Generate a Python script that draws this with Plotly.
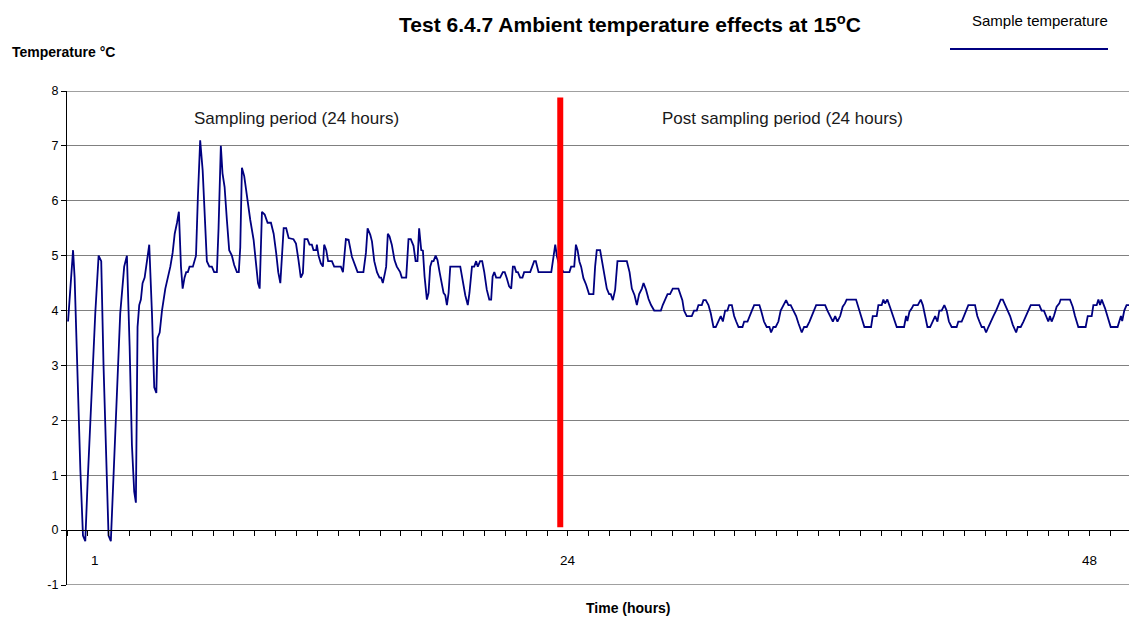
import plotly.graph_objects as go

# ---- data ----
# x is in axis-tick units (one minor tick per unit), y in degrees C
time_units = [
    0.05, 0.29, 0.365, 0.48, 0.64, 0.765, 0.876, 0.99, 1.2, 1.355, 1.515, 1.64, 1.75, 1.88, 1.99, 2.1,
    2.23, 2.39, 2.55, 2.74, 2.87, 3.0, 3.11, 3.22, 3.3, 3.38, 3.46, 3.54, 3.62, 3.72, 3.83, 3.94,
    4.07, 4.18, 4.28, 4.34, 4.44, 4.55, 4.71, 4.84, 4.95, 5.06, 5.16, 5.27, 5.36, 5.46, 5.54, 5.63,
    5.71, 5.79, 5.87, 6.03, 6.18, 6.27, 6.38, 6.5, 6.59, 6.7, 6.82, 6.94, 7.05, 7.18, 7.26, 7.37,
    7.45, 7.55, 7.66, 7.77, 7.9, 8.01, 8.14, 8.23, 8.3, 8.38, 8.49, 8.62, 8.78,
    8.94, 9.07, 9.15, 9.23, 9.34, 9.47, 9.61, 9.77, 9.9, 10.02, 10.12, 10.22, 10.38, 10.5, 10.62,
    10.85, 10.97, 11.09, 11.2, 11.3, 11.38, 11.52, 11.62, 11.73, 11.81, 11.94, 11.97, 12.05, 12.16,
    12.26, 12.32, 12.42, 12.51, 12.69, 12.8, 13.12, 13.22, 13.36, 13.49, 13.65, 13.76, 13.92, 14.2,
    14.32, 14.4, 14.53, 14.61, 14.72, 14.85, 14.97, 15.05, 15.13, 15.24, 15.29, 15.37, 15.45, 15.56,
    15.69, 15.8, 15.96,
    16.04, 16.25, 16.36, 16.47, 16.6, 16.7, 16.79, 16.87, 16.97, 17.05, 17.13, 17.24, 17.32, 17.4,
    17.48, 17.56, 17.66, 17.75, 17.85, 17.96, 18.04, 18.12, 18.2, 18.28, 18.36, 18.84, 18.96, 19.08,
    19.2, 19.28, 19.4, 19.51, 19.6, 19.68, 19.79, 19.89, 19.99, 20.11, 20.23, 20.32, 20.39, 20.47,
    20.56, 20.75, 20.88, 20.97, 21.07, 21.18, 21.28, 21.36, 21.44, 21.52, 21.6, 21.71, 21.82, 21.9,
    22.19, 22.3, 22.38, 22.46, 22.59, 23.2, 23.31, 23.39, 23.47, 23.6, 23.79, 24.07, 24.15, 24.3,
    24.38, 24.46, 24.55, 24.63, 24.74,
    24.87, 25.01, 25.22, 25.3, 25.38, 25.54, 25.64, 25.75, 25.86, 25.97, 26.05, 26.15, 26.26, 26.37,
    26.82, 26.95, 27.06, 27.19, 27.3, 27.41, 27.54, 27.62, 27.74, 27.86, 27.98, 28.13, 28.45, 28.54,
    28.65, 28.77, 28.89, 29.02, 29.29, 29.37, 29.48, 29.56, 29.69, 29.93, 30.04, 30.17, 30.25, 30.41,
    30.49, 30.6, 30.73, 30.84, 30.97, 31.08, 31.21, 31.32, 31.42, 31.53, 31.64, 31.72, 31.85, 31.96,
    32.06, 32.17, 32.36, 32.44, 32.6, 32.69, 32.81, 32.92, 33.17, 33.25, 33.39, 33.52, 33.65, 33.73,
    33.84, 33.95, 34.08, 34.19, 34.32, 34.45, 34.56, 34.67, 34.8, 34.93, 35.04, 35.2, 35.31, 35.44,
    35.57, 35.68, 35.79, 35.89, 36.24,
    36.32, 36.43, 36.56, 36.69, 36.8, 36.91, 37.04, 37.16, 37.27, 37.35, 37.8, 37.91, 38.02, 38.2,
    38.52, 38.6, 38.79, 38.87, 39.03, 39.11, 39.19, 39.3, 39.43, 39.56, 39.75, 40.1, 40.2, 40.26,
    40.36, 40.47, 40.55, 40.76, 40.9, 41.0, 41.11, 41.22, 41.35, 41.46, 41.59, 41.7, 41.79, 41.9,
    42.03, 42.14, 42.25, 42.38, 42.62, 42.7, 42.86, 42.97, 43.07, 43.18, 43.5, 43.61, 43.71, 43.82,
    43.93, 44.03, 44.14, 44.25, 44.38, 44.51, 44.62, 44.73, 44.83, 44.94, 45.05, 45.18, 45.31, 45.47,
    45.55, 45.69, 45.82, 45.95, 46.06, 46.17, 46.58, 46.69, 46.8, 46.9, 47.01, 47.09, 47.17, 47.28,
    47.41, 47.54, 47.6, 48.05, 48.18, 48.29, 48.45, 48.8, 48.9, 49.09, 49.17, 49.33, 49.41, 49.49,
    49.57, 49.73, 49.84, 50.0, 50.33, 50.41, 50.49, 50.55, 50.65, 50.76, 51.0, 51.08, 51.16, 51.24,
]

sample_temperature = [
    3.8, 5.1, 4.6, 3.0, 1.1, -0.1, -0.2, 0.9, 2.7, 3.95, 5.0, 4.9, 3.0, 1.2, -0.1, -0.2,
    1.0, 2.3, 3.95, 4.8, 5.0, 3.35, 1.55, 0.7, 0.5, 3.7, 4.1, 4.2, 4.5, 4.6, 4.9, 5.2,
    3.95, 2.6, 2.5, 3.5, 3.6, 4.0, 4.4, 4.6, 4.8, 5.05, 5.4, 5.6, 5.8, 4.8, 4.4, 4.6,
    4.7, 4.7, 4.8, 4.8, 5.0, 6.07, 7.1, 6.55, 5.9, 4.9, 4.8, 4.8, 4.7, 4.7, 5.5, 7.0,
    6.5, 6.25, 5.65, 5.1, 5.0, 4.83, 4.7, 4.7, 5.15, 6.6, 6.45, 6.07, 5.65,
    5.29, 4.8, 4.5, 4.4, 5.8, 5.75, 5.6, 5.6, 5.4, 5.05, 4.7, 4.5, 5.5, 5.5, 5.32,
    5.3, 5.22, 4.92, 4.6, 4.68, 5.3, 5.3, 5.2, 5.2, 5.1, 5.1, 5.2, 5.0, 4.86,
    4.8, 5.2, 5.1, 4.9, 4.9, 4.8, 4.8, 4.7, 5.3, 5.29, 4.98, 4.86, 4.7, 4.7,
    5.05, 5.5, 5.38, 5.26, 4.9, 4.7, 4.6, 4.6, 4.5, 4.7, 4.8, 5.4, 5.35, 5.2,
    4.92, 4.8, 4.7,
    4.6, 4.6, 5.3, 5.3, 5.18, 4.9, 4.9, 5.5, 5.1, 5.09, 4.62, 4.2, 4.32, 4.8,
    4.9, 4.9, 5.0, 4.92, 4.7, 4.5, 4.32, 4.28, 4.1, 4.32, 4.8, 4.8, 4.5, 4.28,
    4.1, 4.32, 4.8, 4.8, 4.9, 4.8, 4.9, 4.9, 4.7, 4.38, 4.2, 4.2, 4.62, 4.7,
    4.6, 4.6, 4.7, 4.7, 4.59, 4.44, 4.4, 4.8, 4.8, 4.7, 4.7, 4.6, 4.6, 4.7,
    4.7, 4.8, 4.9, 4.9, 4.7, 4.7, 5.0, 5.2, 4.99, 4.8, 4.7, 4.7, 4.8, 4.8,
    5.2, 5.1, 4.89, 4.8, 4.59,
    4.47, 4.3, 4.3, 4.8, 5.1, 5.1, 4.89, 4.6, 4.4, 4.3, 4.3, 4.19, 4.38, 4.9,
    4.9, 4.7, 4.4, 4.28, 4.1, 4.3, 4.4, 4.5, 4.38, 4.21, 4.1, 4.0, 4.0, 4.1,
    4.19, 4.3, 4.3, 4.4, 4.4, 4.3, 4.19, 4.0, 3.9, 3.9, 4.0, 4.0, 4.1, 4.1,
    4.19, 4.19, 4.1, 3.95, 3.7, 3.7, 3.8, 3.9, 3.8, 4.0, 4.0, 4.1, 4.1, 3.9,
    3.8, 3.7, 3.7, 3.8, 3.8, 3.9, 4.0, 4.1, 4.1, 4.0, 3.8, 3.7, 3.7, 3.6,
    3.7, 3.7, 3.8, 4.0, 4.1, 4.19, 4.1, 4.1, 4.0, 3.9, 3.77, 3.6, 3.7, 3.7,
    3.8, 3.9, 4.0, 4.1, 4.1,
    4.1, 4.0, 3.9, 3.8, 3.9, 3.8, 3.9, 4.07, 4.13, 4.2, 4.2, 4.07, 3.9, 3.7,
    3.7, 3.9, 3.9, 4.1, 4.1, 4.2, 4.13, 4.2, 4.06, 3.9, 3.7, 3.7, 3.9, 3.81,
    3.98, 4.04, 4.1, 4.1, 4.2, 4.1, 3.9, 3.7, 3.7, 3.8, 3.9, 3.8, 4.0, 4.0,
    4.1, 4.0, 3.8, 3.7, 3.7, 3.8, 3.8, 3.9, 4.0, 4.1, 4.1, 3.9, 3.8, 3.7,
    3.7, 3.6, 3.7, 3.8, 3.9, 4.0, 4.1, 4.2, 4.2, 4.1, 4.0, 3.9, 3.74, 3.6,
    3.7, 3.7, 3.8, 3.9, 4.0, 4.1, 4.1, 4.0, 4.0, 3.9, 3.8, 3.9, 3.8, 3.9,
    4.07, 4.13, 4.2, 4.2, 4.07, 3.9, 3.7, 3.7, 3.9, 3.9, 4.1, 4.1, 4.2, 4.1,
    4.2, 4.04, 3.9, 3.7, 3.7, 3.8, 3.9, 3.81, 4.0, 4.1, 4.1, 4.2, 4.1, 4.04,
]

x_tick_labels = ["1", "24", "48"]
x_tick_label_at = [1.32, 24.0, 49.0]

y_tick_values = [-1, 0, 1, 2, 3, 4, 5, 6, 7, 8]
y_tick_labels = ["-1", "0", "1", "2", "3", "4", "5", "6", "7", "8"]

period_labels = ["Sampling period (24 hours)", "Post sampling period (24 hours)"]
period_label_x = [10.98, 34.26]
period_label_y = [7.5, 7.5]

sampling_end_x = 23.63          # red marker for the end of sampling period
marker_y_range = [0.05, 7.88]

FONT = "Arial, Liberation Sans, sans-serif"
X_MAX = 51.26
Y_MIN, Y_MAX = -1, 8

# the page body adds an 8px offset; figure is sized so it ends at the window edge
OFF = 8
FIG_W, FIG_H = 1137 - OFF, 621 - OFF
M_L, M_T, M_B = 67 - OFF, 91 - OFF, 36
plot_w = FIG_W - M_L
plot_h = FIG_H - M_T - M_B


def px_x(ref_x):
    return (ref_x - 67) / plot_w


def px_y(ref_y):
    return (585 - ref_y) / plot_h


fig = go.Figure()
fig.add_trace(go.Scatter(
    x=time_units, y=sample_temperature, mode="lines",
    line=dict(color="#000080", width=1.8),
    name="Sample temperature", showlegend=False, hoverinfo="skip",
))

# top & bottom frame lines (gray like the gridlines)
for yv in (Y_MIN, Y_MAX):
    fig.add_shape(type="line", xref="paper", yref="y", x0=0, x1=1, y0=yv, y1=yv,
                  line=dict(color="#808080", width=1.5), layer="below")

fig.add_shape(type="line", xref="x", yref="y",
              x0=sampling_end_x, x1=sampling_end_x,
              y0=marker_y_range[0], y1=marker_y_range[1],
              line=dict(color="#FF0000", width=6), layer="above")

annotations = []
for lab, xv in zip(x_tick_labels, x_tick_label_at):
    annotations.append(dict(x=xv, y=-0.55, xref="x", yref="y", text=lab, showarrow=False,
                            font=dict(family=FONT, size=13.5, color="#000000"),
                            xanchor="center", yanchor="middle"))
for lab, xv, yv in zip(period_labels, period_label_x, period_label_y):
    annotations.append(dict(x=xv, y=yv, xref="x", yref="y", text=lab, showarrow=False,
                            font=dict(family=FONT, size=17, color="#1a1a1a"),
                            xanchor="center", yanchor="middle"))

annotations.append(dict(x=px_x(10), y=px_y(52), xref="paper", yref="paper",
                        text="<b>Temperature °C</b>", showarrow=False,
                        font=dict(family=FONT, size=14, color="#000000"),
                        xanchor="left", yanchor="middle"))
annotations.append(dict(x=px_x(628), y=px_y(608), xref="paper", yref="paper",
                        text="<b>Time (hours)</b>", showarrow=False,
                        font=dict(family=FONT, size=14, color="#000000"),
                        xanchor="center", yanchor="middle"))
annotations.append(dict(x=px_x(1040), y=px_y(20), xref="paper", yref="paper",
                        text="Sample temperature", showarrow=False,
                        font=dict(family=FONT, size=15, color="#000000"),
                        xanchor="center", yanchor="middle"))

fig.add_shape(type="line", xref="paper", yref="paper",
              x0=px_x(950), x1=px_x(1108), y0=px_y(49), y1=px_y(49),
              line=dict(color="#000080", width=2))

fig.update_layout(
    width=FIG_W, height=FIG_H,
    margin=dict(l=M_L, r=0, t=M_T, b=M_B, autoexpand=False),
    paper_bgcolor="white", plot_bgcolor="white",
    showlegend=False,
    title=dict(text="<b>Test 6.4.7 Ambient temperature effects at 15<sup>o</sup>C</b>",
               x=(630 - OFF) / FIG_W, xanchor="center", xref="container",
               y=1 - (25 - OFF) / FIG_H, yanchor="middle", yref="container",
               font=dict(family=FONT, size=21, color="#000000")),
    xaxis=dict(range=[0, X_MAX], anchor="free", position=(0 - Y_MIN) / (Y_MAX - Y_MIN),
               showgrid=False, zeroline=False, showline=True, linecolor="#000000", linewidth=1.3,
               ticks="outside", ticklen=5, tickcolor="#000000", tickwidth=1,
               tick0=0, dtick=1, showticklabels=False),
    yaxis=dict(range=[Y_MIN, Y_MAX], tickmode="array", tickvals=y_tick_values, ticktext=y_tick_labels,
               showgrid=True, gridcolor="#808080", gridwidth=1.3, zeroline=False,
               showline=True, linecolor="#000000", linewidth=1.3,
               ticks="outside", ticklen=5, tickcolor="#000000",
               tickfont=dict(family=FONT, size=12.5, color="#000000")),
    annotations=annotations,
)

fig.write_html("out.html")
